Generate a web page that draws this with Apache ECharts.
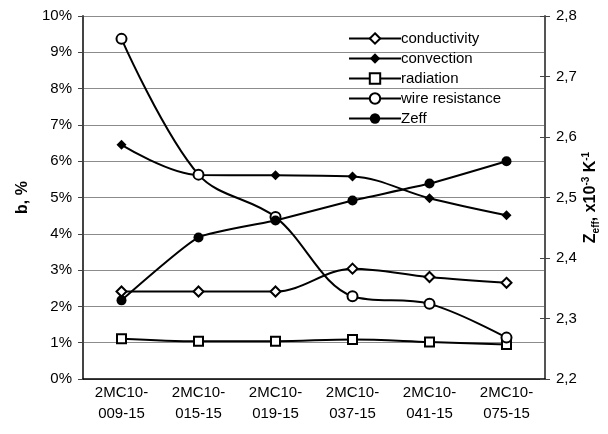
<!DOCTYPE html>
<html>
<head>
<meta charset="utf-8">
<script src="https://cdn.jsdelivr.net/npm/echarts@6/dist/echarts.min.js"></script>
<style>
  html, body { margin: 0; padding: 0; background: #fff; }
  #chart { width: 608px; height: 434px; }
</style>
</head>
<body>
<div id="chart"></div>
<script>
// samples on the x axis
var categories = ['2MC10-\n009-15', '2MC10-\n015-15', '2MC10-\n019-15', '2MC10-\n037-15', '2MC10-\n041-15', '2MC10-\n075-15'];

// b, % (left axis)
var conductivity = [2.41, 2.41, 2.41, 3.04, 2.81, 2.65];
var convection = [6.45, 5.62, 5.61, 5.58, 4.98, 4.51];
var radiation = [1.11, 1.04, 1.04, 1.09, 1.02, 0.95];
var wireResistance = [9.37, 5.63, 4.46, 2.28, 2.07, 1.14];

// Zeff, x10^-3 K^-1 (right axis)
var zeff = [2.33, 2.434, 2.462, 2.495, 2.523, 2.56];

var leftTicks = { min: 0, max: 10, interval: 1 };
var rightTicks = { min: 2.2, max: 2.8, interval: 0.1 };

var font = 'Liberation Sans, Arial, sans-serif';
var fs = 15;
var chart = echarts.init(document.getElementById('chart'));

function lineSeries(name, data, symbol, filled, axis, smooth) {
  return {
    name: name,
    type: 'line',
    data: data,
    yAxisIndex: axis,
    smooth: smooth,
    symbol: symbol,
    symbolSize: symbol == 'rect' ? 9 : 10,
    showAllSymbol: true,
    lineStyle: { color: '#000', width: 2 },
    itemStyle: {
      color: filled ? '#000' : '#fff',
      borderColor: '#000',
      borderWidth: filled ? 0 : 2
    },
    emphasis: { disabled: true },
    z: 3
  };
}

chart.setOption({
  animation: false,
  textStyle: { fontFamily: font },
  grid: { left: 83, right: 63, top: 16, bottom: 55, containLabel: false, outerBoundsMode: 'none' },
  legend: {
    orient: 'vertical',
    left: 343,
    top: 26,
    itemWidth: 52,
    itemHeight: 13,
    itemGap: 5,
    textStyle: { fontSize: fs, color: '#000', fontFamily: font, padding: [0, 0, 0, -5] },
    data: ['conductivity', 'convection', 'radiation', 'wire resistance', 'Zeff']
  },
  xAxis: {
    type: 'category',
    data: categories,
    boundaryGap: true,
    axisLine: { lineStyle: { color: '#000', width: 1.5 } },
    axisTick: { length: 5, lineStyle: { color: '#000' } },
    axisLabel: { color: '#000', fontSize: fs, lineHeight: 21, margin: 3, interval: 0 }
  },
  yAxis: [{
    type: 'value',
    position: 'left',
    min: leftTicks.min, max: leftTicks.max, interval: leftTicks.interval,
    name: 'b, %',
    nameLocation: 'middle',
    nameRotate: 90,
    nameGap: 52,
    nameMoveOverlap: false,
    nameTextStyle: { fontSize: 16, fontWeight: 'bold', color: '#000' },
    axisLine: { show: true, lineStyle: { color: '#444', width: 2 } },
    axisTick: { show: true, length: 5, lineStyle: { color: '#444' } },
    axisLabel: { color: '#000', fontSize: fs, margin: 11, formatter: '{value}%' },
    splitLine: { show: true, lineStyle: { color: '#8c8c8c', width: 1 } }
  }, {
    type: 'value',
    position: 'right',
    min: rightTicks.min, max: rightTicks.max, interval: rightTicks.interval,
    name: 'Z{sub|eff}, x10{sup|-3} K{sup|-1}',
    nameLocation: 'middle',
    nameRotate: 90,
    nameGap: 36,
    nameMoveOverlap: false,
    nameTextStyle: {
      fontSize: 16, fontWeight: 'bold', color: '#000', lineHeight: 20,
      rich: {
        sub: { fontSize: 10, fontWeight: 'bold', color: '#000', verticalAlign: 'bottom', lineHeight: 20 },
        sup: { fontSize: 10, fontWeight: 'bold', color: '#000', verticalAlign: 'top', lineHeight: 20 }
      }
    },
    axisLine: { show: true, lineStyle: { color: '#555', width: 2 } },
    axisTick: { show: true, length: 5, lineStyle: { color: '#444' } },
    axisLabel: {
      color: '#000', fontSize: fs, margin: 11,
      formatter: function (v) { return v.toFixed(1).replace('.', ','); }
    },
    splitLine: { show: false }
  }, {
    // inner half of the crossing ticks on the right axis
    type: 'value',
    position: 'right',
    min: rightTicks.min, max: rightTicks.max, interval: rightTicks.interval,
    axisLine: { show: false },
    axisTick: { show: true, inside: true, length: 5, lineStyle: { color: '#444' } },
    axisLabel: { show: false },
    splitLine: { show: false }
  }],
  series: [
    lineSeries('conductivity', conductivity, 'diamond', false, 0, 0.35),
    lineSeries('convection', convection, 'diamond', true, 0, 0.35),
    lineSeries('radiation', radiation, 'rect', false, 0, 0.35),
    lineSeries('wire resistance', wireResistance, 'circle', false, 0, 0.35),
    lineSeries('Zeff', zeff, 'circle', true, 1, 0.15)
  ]
});
</script>
</body>
</html>
